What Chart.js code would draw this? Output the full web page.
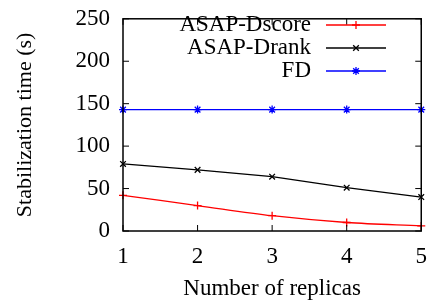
<!DOCTYPE html>
<html>
<head>
<meta charset="utf-8">
<script src="https://cdn.jsdelivr.net/npm/chart.js@4/dist/chart.umd.min.js"></script>
<style>
  html, body { margin: 0; padding: 0; background: #fff; }
  #wrap { width: 431px; height: 305px; }
</style>
</head>
<body>
<div id="wrap"><canvas id="chart" width="431" height="305"></canvas></div>
<script>
// values
var replicas = ['1', '2', '3', '4', '5'];
var dscore = [42, 30, 18, 10, 6];
var drank = [79, 72, 64, 51, 40];
var fd = [143, 143, 143, 143, 143];
var yTicks = [0, 50, 100, 150, 200, 250];

var serif = '"Liberation Serif", "DejaVu Serif", serif';

// gnuplot style frame with ticks pointing inwards on all four sides
var framePlugin = {
    id: 'frame',
    afterDatasetsDraw: function(chart) {
        var ctx = chart.ctx, a = chart.chartArea;
        var xs = chart.scales.x, ys = chart.scales.y;
        ctx.save();
        ctx.strokeStyle = '#000';
        ctx.lineWidth = 1.5;
        ctx.strokeRect(a.left, a.top, a.right - a.left, a.bottom - a.top);
        ctx.lineWidth = 1;
        ctx.beginPath();
        yTicks.forEach(function(v) {
            var py = ys.getPixelForValue(v);
            ctx.moveTo(a.left, py); ctx.lineTo(a.left + 6, py);
            ctx.moveTo(a.right, py); ctx.lineTo(a.right - 6, py);
        });
        replicas.forEach(function(r, i) {
            var px = xs.getPixelForValue(i);
            ctx.moveTo(px, a.bottom); ctx.lineTo(px, a.bottom - 6);
            ctx.moveTo(px, a.top); ctx.lineTo(px, a.top + 6);
        });
        ctx.stroke();
        ctx.restore();
    }
};

// key in the top right corner, text right aligned, sample to its right
var keyPlugin = {
    id: 'key',
    afterDraw: function(chart) {
        var ctx = chart.ctx;
        ctx.save();
        ctx.font = '23px ' + serif;
        ctx.textAlign = 'right';
        ctx.textBaseline = 'middle';
        chart.data.datasets.forEach(function(ds, i) {
            var y = 25 + 23 * i;
            ctx.fillStyle = '#000';
            ctx.fillText(ds.label, 311, y);
            ctx.strokeStyle = ds.borderColor;
            ctx.lineWidth = 1.3;
            ctx.beginPath();
            ctx.moveTo(326, y); ctx.lineTo(386, y);
            ctx.stroke();
            ctx.fillStyle = ds.borderColor;
            Chart.helpers.drawPoint(ctx, {pointStyle: ds.pointStyle, radius: 4, borderWidth: 1.3}, 356, y);
        });
        ctx.restore();
    }
};

new Chart(document.getElementById('chart'), {
    type: 'line',
    data: {
        labels: replicas,
        datasets: [
            {label: 'ASAP-Dscore', data: dscore, borderColor: '#ff0000', pointStyle: 'cross', cubicInterpolationMode: 'monotone'},
            {label: 'ASAP-Drank', data: drank, borderColor: '#000000', pointStyle: 'crossRot'},
            {label: 'FD', data: fd, borderColor: '#0000ff', pointStyle: 'star'}
        ]
    },
    options: {
        responsive: false,
        animation: false,
        layout: {padding: {top: 12, right: 8, left: 0, bottom: 0}},
        elements: {
            line: {borderWidth: 1.3, fill: false},
            point: {radius: 4, borderWidth: 1.3, hoverRadius: 4}
        },
        plugins: {legend: {display: false}, tooltip: {enabled: false}},
        scales: {
            x: {
                offset: false,
                grid: {display: false},
                border: {display: false},
                ticks: {color: '#000', font: {family: serif, size: 23}, padding: 4, maxRotation: 0},
                title: {display: true, text: 'Number of replicas', color: '#000', font: {family: serif, size: 23}, padding: {top: 0, bottom: 2}},
                afterFit: function(s) { s.height = 74; }
            },
            y: {
                min: 0, max: 250,
                grid: {display: false},
                border: {display: false},
                afterBuildTicks: function(s) { s.ticks = yTicks.map(function(v) { return {value: v}; }); },
                ticks: {color: '#000', font: {family: serif, size: 23}, padding: 5},
                title: {display: true, text: 'Stabilization time (s)', color: '#000', font: {family: serif, size: 22}, padding: {top: 12, bottom: 0}},
                afterFit: function(s) { s.width = 123; }
            }
        }
    },
    plugins: [framePlugin, keyPlugin]
});
</script>
</body>
</html>
